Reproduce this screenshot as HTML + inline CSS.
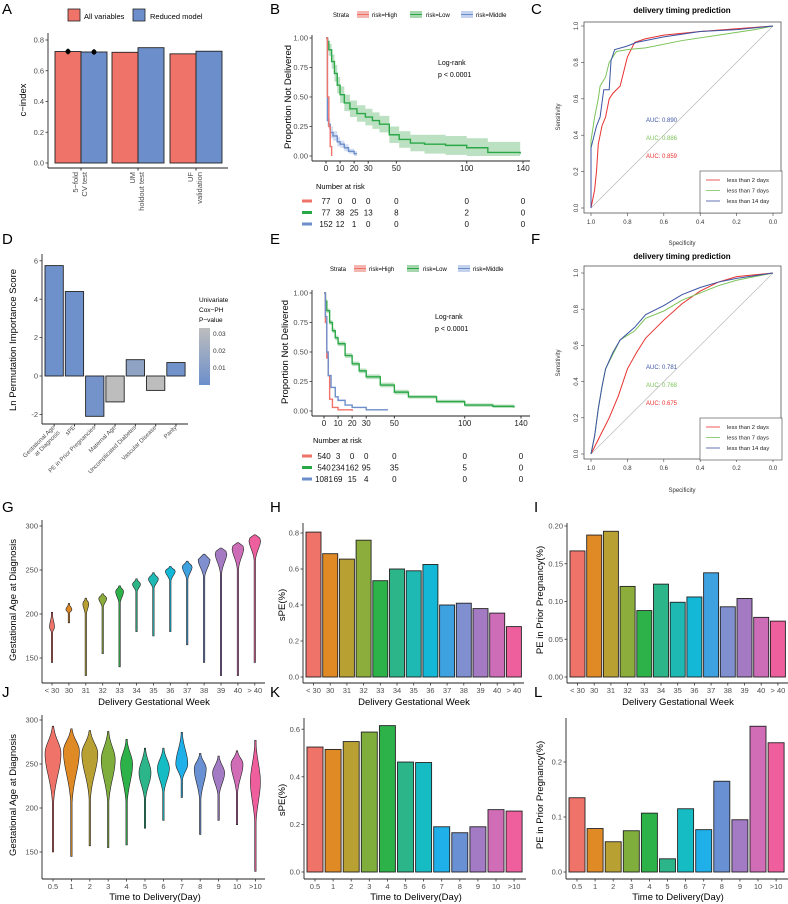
<!DOCTYPE html>
<html><head><meta charset="utf-8">
<style>
html,body{margin:0;padding:0;background:#fff;}
svg{display:block;font-family:"Liberation Sans",sans-serif;}
.tk{font-size:7.5px;fill:#4d4d4d;}
.at{font-size:9.5px;fill:#000;}
.pl{font-size:15px;fill:#000;}
.sm{font-size:6.5px;fill:#333;}
</style></head>
<body>
<svg id="fig" width="788" height="904" viewBox="0 0 788 904" xmlns="http://www.w3.org/2000/svg">
<text class="pl" x="2" y="14">A</text>
<text class="pl" x="270" y="14">B</text>
<text class="pl" x="531" y="14">C</text>
<text class="pl" x="2" y="244">D</text>
<text class="pl" x="270" y="244">E</text>
<text class="pl" x="531" y="244">F</text>
<text class="pl" x="2" y="512">G</text>
<text class="pl" x="270" y="512">H</text>
<text class="pl" x="534" y="512">I</text>
<text class="pl" x="2" y="697">J</text>
<text class="pl" x="270" y="697">K</text>
<text class="pl" x="534" y="697">L</text>

<rect x="68" y="9" width="12" height="12" fill="#f0736a" stroke="#222" stroke-width="0.8"/>
<text x="84" y="19" font-size="7.5">All variables</text>
<rect x="133" y="9" width="12" height="12" fill="#6c8fcb" stroke="#222" stroke-width="0.8"/>
<text x="150" y="19" font-size="7.5">Reduced model</text>
<text class="at" transform="translate(26,100) rotate(-90)" text-anchor="middle" font-size="10">c−index</text>
<g id="gA"></g>

<g font-size="6">
<text x="333" y="17">Strata</text>
<rect x="357" y="11" width="12" height="7" fill="#f4b6b1"/><line x1="357" x2="369" y1="14.5" y2="14.5" stroke="#f0736a"/>
<text x="372" y="17">risk=High</text>
<rect x="410" y="11" width="12" height="7" fill="#a5d6ae"/><line x1="410" x2="422" y1="14.5" y2="14.5" stroke="#2aa847"/>
<text x="426" y="17">risk=Low</text>
<rect x="461" y="11" width="12" height="7" fill="#c3d2ee"/><line x1="461" x2="473" y1="14.5" y2="14.5" stroke="#6c8fcb"/>
<text x="476" y="17">risk=Middle</text>
</g>
<text class="at" font-size="8" transform="translate(291,97) rotate(-90)" text-anchor="middle">Proportion Not Delivered</text>
<text x="438" y="65" font-size="7">Log-rank</text>
<text x="438" y="77" font-size="7">p &lt; 0.0001</text>
<text x="316" y="189" font-size="7.5">Number at risk</text>
<g id="gB"></g>

<g font-size="6">
<text x="330" y="271">Strata</text>
<rect x="354" y="265" width="12" height="7" fill="#f4b6b1"/><line x1="354" x2="366" y1="268.5" y2="268.5" stroke="#f0736a"/>
<text x="369" y="271">risk=High</text>
<rect x="407" y="265" width="12" height="7" fill="#a5d6ae"/><line x1="407" x2="419" y1="268.5" y2="268.5" stroke="#2aa847"/>
<text x="423" y="271">risk=Low</text>
<rect x="458" y="265" width="12" height="7" fill="#c3d2ee"/><line x1="458" x2="470" y1="268.5" y2="268.5" stroke="#6c8fcb"/>
<text x="473" y="271">risk=Middle</text>
</g>
<text class="at" font-size="8" transform="translate(288,352) rotate(-90)" text-anchor="middle">Proportion Not Delivered</text>
<text x="435" y="319" font-size="7">Log-rank</text>
<text x="435" y="331" font-size="7">p &lt; 0.0001</text>
<text x="313" y="443" font-size="7.5">Number at risk</text>
<g id="gE"></g>

<text x="682" y="13" font-size="8" font-weight="bold" text-anchor="middle">delivery timing prediction</text>
<text x="682" y="259" font-size="8" font-weight="bold" text-anchor="middle">delivery timing prediction</text>
<text x="682" y="245" font-size="6" text-anchor="middle" fill="#333">Specificity</text>
<text x="682" y="492" font-size="6" text-anchor="middle" fill="#333">Specificity</text>
<text font-size="6" fill="#333" transform="translate(560,117) rotate(-90)" text-anchor="middle">Sensitivity</text>
<text font-size="6" fill="#333" transform="translate(560,363) rotate(-90)" text-anchor="middle">Sensitivity</text>
<g id="gC"></g>
<g id="gF"></g>

<text class="at" font-size="8.5" transform="translate(16,340) rotate(-90)" text-anchor="middle">Ln Permutation Importance Score</text>
<g font-size="6.5">
<text x="199" y="302">Univariate</text>
<text x="199" y="312">Cox−PH</text>
<text x="199" y="322">P−value</text>
</g>
<defs><linearGradient id="pgrad" x1="0" y1="1" x2="0" y2="0"><stop offset="0" stop-color="#6c8fcb"/><stop offset="1" stop-color="#bdbdbd"/></linearGradient></defs>
<rect x="199" y="328" width="11" height="57" fill="url(#pgrad)"/>
<g class="sm" font-size="5.5">
<text x="213" y="336">0.03</text><text x="213" y="353">0.02</text><text x="213" y="370">0.01</text>
</g>
<g id="gD"></g>

<text class="at" transform="translate(16,600) rotate(-90)" text-anchor="middle">Gestational Age at Diagnosis</text>
<text class="at" x="154" y="705" text-anchor="middle">Delivery Gestational Week</text>
<text class="at" transform="translate(285,605) rotate(-90)" text-anchor="middle">sPE(%)</text>
<text class="at" x="414" y="705" text-anchor="middle">Delivery Gestational Week</text>
<text class="at" transform="translate(543,600) rotate(-90)" text-anchor="middle">PE in Prior Pregnancy(%)</text>
<text class="at" x="678" y="705" text-anchor="middle">Delivery Gestational Week</text>
<text class="at" transform="translate(16,795) rotate(-90)" text-anchor="middle">Gestational Age at Diagnosis</text>
<text class="at" x="155" y="900" text-anchor="middle">Time to Delivery(Day)</text>
<text class="at" transform="translate(285,800) rotate(-90)" text-anchor="middle">sPE(%)</text>
<text class="at" x="416" y="900" text-anchor="middle">Time to Delivery(Day)</text>
<text class="at" transform="translate(543,795) rotate(-90)" text-anchor="middle">PE in Prior Pregnancy(%)</text>
<text class="at" x="678" y="900" text-anchor="middle">Time to Delivery(Day)</text>
<g id="gG"></g>
<g id="gH"></g>
<g id="gI"></g>
<g id="gJ"></g>
<g id="gK"></g>
<g id="gL"></g>
</svg>
<script>
// A
const aGroups = ["5−fold|CV test","UM|holdout test","UF|validation"];
const aAllVars = [0.725, 0.72, 0.71];
const aReduced = [0.722, 0.75, 0.727];
const aTicks = [0, 0.2, 0.4, 0.6, 0.8];
// B
const bTicks = [0, 10, 20, 30, 50, 100, 140];
const bHighT = [0, 1, 2, 3, 4];
const bHighS = [1, 0.5, 0.25, 0.08, 0];
const bMidT = [0, 1, 2, 3, 5, 8, 10, 13, 16, 20, 22];
const bMidS = [1, 0.3, 0.27, 0.2, 0.17, 0.12, 0.1, 0.07, 0.04, 0.02, 0.02];
const bMidCI = [0, 0.05, 0.05, 0.05, 0.04, 0.04, 0.03, 0.03, 0.02, 0.02, 0.02];
const bLowT = [0, 1, 2, 4, 6, 8, 10, 13, 17, 22, 28, 33, 38, 45, 52, 60, 70, 85, 100, 115, 138];
const bLowS = [1, 0.97, 0.9, 0.8, 0.7, 0.6, 0.52, 0.45, 0.4, 0.36, 0.33, 0.3, 0.27, 0.18, 0.14, 0.11, 0.1, 0.09, 0.07, 0.03, 0.02];
const bLowCI = [0, 0.03, 0.05, 0.06, 0.07, 0.07, 0.07, 0.07, 0.07, 0.07, 0.07, 0.07, 0.07, 0.07, 0.07, 0.07, 0.08, 0.08, 0.08, 0.09, 0.1];
const bRiskHigh = ["77","0","0","0","0","0","0"];
const bRiskLow = ["77","38","25","13","8","2","0"];
const bRiskMid = ["152","12","1","0","0","0","0"];
// E
const eHighT = [0, 1, 2, 3, 4, 6, 10, 20];
const eHighS = [1, 0.75, 0.45, 0.3, 0.1, 0.03, 0.01, 0];
const eMidT = [0, 1, 2, 3, 5, 8, 10, 15, 20, 30, 45];
const eMidS = [1, 0.8, 0.5, 0.3, 0.2, 0.12, 0.09, 0.05, 0.03, 0.01, 0.005];
const eLowT = [0, 1, 2, 4, 6, 8, 10, 15, 20, 25, 30, 40, 50, 60, 80, 100, 120, 135];
const eLowS = [1, 0.93, 0.85, 0.75, 0.68, 0.62, 0.57, 0.47, 0.4, 0.34, 0.29, 0.22, 0.16, 0.12, 0.08, 0.05, 0.04, 0.03];
const eLowCI = [0, 0.02, 0.02, 0.02, 0.02, 0.02, 0.02, 0.02, 0.02, 0.02, 0.02, 0.02, 0.02, 0.015, 0.015, 0.015, 0.015, 0.015];
const eRiskHigh = ["540","3","0","0","0","0","0"];
const eRiskLow = ["540","234","162","95","35","5","0"];
const eRiskMid = ["1081","69","15","4","0","0","0"];
// C ROC
const rocTicks = [1.0, 0.8, 0.6, 0.4, 0.2, 0.0];
const cRedSp = [1, 0.99, 0.98, 0.97, 0.96, 0.94, 0.92, 0.9, 0.88, 0.84, 0.82, 0.8, 0.76, 0.7, 0.6, 0.4, 0.2, 0];
const cRedSe = [0, 0.05, 0.1, 0.2, 0.35, 0.45, 0.5, 0.6, 0.63, 0.67, 0.75, 0.83, 0.91, 0.93, 0.95, 0.97, 0.985, 1];
const cGreenSp = [1, 1, 0.98, 0.96, 0.95, 0.92, 0.9, 0.86, 0.8, 0.7, 0.5, 0.3, 0.1, 0];
const cGreenSe = [0, 0.37, 0.5, 0.6, 0.67, 0.72, 0.8, 0.86, 0.87, 0.88, 0.92, 0.95, 0.98, 1];
const cBlueSp = [1, 1, 0.97, 0.95, 0.93, 0.9, 0.89, 0.87, 0.8, 0.75, 0.6, 0.4, 0.2, 0];
const cBlueSe = [0, 0.33, 0.45, 0.5, 0.65, 0.65, 0.81, 0.87, 0.89, 0.91, 0.94, 0.97, 0.98, 1];
const cAUC = ["AUC: 0.890", "AUC: 0.886", "AUC: 0.859"];
// F ROC
const fRedSp = [1, 0.95, 0.9, 0.85, 0.8, 0.75, 0.7, 0.6, 0.5, 0.4, 0.3, 0.2, 0];
const fRedSe = [0, 0.1, 0.2, 0.32, 0.47, 0.56, 0.64, 0.74, 0.83, 0.9, 0.95, 0.98, 1];
const fGreenSp = [1, 0.98, 0.96, 0.94, 0.92, 0.88, 0.84, 0.76, 0.7, 0.6, 0.5, 0.4, 0.3, 0.2, 0];
const fGreenSe = [0, 0.1, 0.25, 0.37, 0.47, 0.55, 0.63, 0.68, 0.75, 0.79, 0.85, 0.89, 0.93, 0.96, 1];
const fBlueSp = [1, 0.98, 0.96, 0.94, 0.92, 0.88, 0.84, 0.76, 0.7, 0.6, 0.5, 0.4, 0.3, 0.2, 0];
const fBlueSe = [0, 0.1, 0.25, 0.37, 0.47, 0.56, 0.63, 0.7, 0.77, 0.82, 0.88, 0.92, 0.95, 0.97, 1];
const fAUC = ["AUC: 0.781", "AUC: 0.768", "AUC: 0.675"];
// D
const dVars = ["Gestational Age|at Diagnosis","sPE","PE in Prior Pregnancies","Maternal Age","Uncomplicated Diabetes","Vascular Disease","Parity"];
const dScores = [5.75, 4.4, -2.1, -1.35, 0.85, -0.75, 0.7];
const dPvals = [0.001, 0.001, 0.003, 0.035, 0.015, 0.035, 0.002];
const dTicks = [-2, 0, 2, 4, 6];
// G
const gCats = ["< 30","30","31","32","33","34","35","36","37","38","39","40","> 40"];
const gMax = [202, 212, 218, 223, 232, 240, 247, 254, 260, 268, 275, 281, 290];
const gMode = [185, 205, 212, 218, 226, 234, 240, 249, 254, 262, 270, 276, 285];
const gMin = [145, 190, 130, 155, 140, 180, 175, 180, 165, 145, 130, 130, 145];
const gTicks = [150, 200, 250, 300];
// H, I
const hVals = [0.805, 0.685, 0.655, 0.76, 0.535, 0.6, 0.59, 0.625, 0.4, 0.41, 0.38, 0.355, 0.28];
const hTicks = [0, 0.2, 0.4, 0.6, 0.8];
const iVals = [0.167, 0.188, 0.193, 0.12, 0.088, 0.123, 0.099, 0.106, 0.138, 0.093, 0.104, 0.079, 0.074];
const iTicks = [0, 0.05, 0.1, 0.15, 0.2];
// J
const jCats = ["0.5","1","2","3","4","5","6","7","8","9","10",">10"];
const jMax = [293, 290, 288, 287, 278, 268, 268, 286, 262, 259, 265, 277];
const jMode = [262, 265, 262, 255, 250, 240, 245, 250, 245, 240, 250, 230];
const jMin = [150, 145, 157, 155, 158, 177, 186, 212, 170, 186, 181, 128];
const jTicks = [150, 200, 250, 300];
// K, L
const kVals = [0.525, 0.515, 0.548, 0.588, 0.615, 0.462, 0.46, 0.19, 0.165, 0.19, 0.262, 0.256];
const kTicks = [0, 0.2, 0.4, 0.6];
const lVals = [0.135, 0.079, 0.055, 0.075, 0.107, 0.024, 0.115, 0.077, 0.165, 0.095, 0.265, 0.235];
const lTicks = [0, 0.1, 0.2];

const NS = "http://www.w3.org/2000/svg";
const pal13 = ["#f0736a","#e08a26","#b9a032","#8cad3c","#2db24a","#2db58a","#1fb9b3","#13b8d6","#3ea1e0","#7f8fd0","#a47bc2","#cd6db8","#ee5f9e"];
const pal12 = ["#f0736a","#e08a26","#b9a032","#7fae3c","#2db24a","#2db58a","#16bcc4","#1fb0ea","#6a90d4","#a27bc4","#d06db6","#ef5f9e"];
function mk(tag, a, parent){const e=document.createElementNS(NS,tag);for(const k in a)e.setAttribute(k,a[k]);parent.appendChild(e);return e;}
function txt(s,a,parent){const e=mk("text",a,parent);e.textContent=s;return e;}
function G(id){return document.getElementById(id);}

function axes(g, x0, yTop, yBot, xRight, ticks, yFn, fmt, nm){
  const l=mk("line",{x1:x0,x2:x0,y1:yTop,y2:yBot,stroke:"#222","stroke-width":0.9},g);
  
  
  const b=mk("line",{x1:x0,x2:xRight,y1:yBot,y2:yBot,stroke:"#222","stroke-width":0.9},g);
  
  
  ticks.forEach(t=>{
    const y=yFn(t);
    mk("line",{x1:x0-2.5,x2:x0,y1:y,y2:y,stroke:"#333","stroke-width":0.8},g);
    const e=txt(fmt(t),{x:x0-4,y:y+2.6,"text-anchor":"end",class:"tk"},g);
    
    
  });
}
function xlabels(g, cats, xFn, y, yBot, nm){
  cats.forEach((c,i)=>{
    const x=xFn(i);
    mk("line",{x1:x,x2:x,y1:yBot,y2:yBot+2.5,stroke:"#333","stroke-width":0.8},g);
    const e=txt(c,{x:x,y:y,"text-anchor":"middle",class:"tk"},g);
    
    
  });
}

(function(){
  const g=G("gA");
  const yA=v=>163-v*(123/0.8);
  const gx=[55,112,170], bw=26;
  axes(g,48,33,168,228,aTicks,yA,t=>t.toFixed(1),"a");
  aAllVars.forEach((v,i)=>{
    const r=mk("rect",{x:gx[i],y:yA(v),width:bw,height:yA(0)-yA(v),fill:"#f0736a",stroke:"#222","stroke-width":0.9},g);
    
    
  });
  aReduced.forEach((v,i)=>{
    const r=mk("rect",{x:gx[i]+bw,y:yA(v),width:bw,height:yA(0)-yA(v),fill:"#6c8fcb",stroke:"#222","stroke-width":0.9},g);
    
    
  });
  [aAllVars[0],aReduced[0]].forEach((v,k)=>{
    const cx=gx[0]+bw/2+k*bw;
    mk("line",{x1:cx,x2:cx,y1:yA(v)-3,y2:yA(v)+3,stroke:"#000"},g);
    const c=mk("circle",{cx:cx,cy:yA(v),r:2.5,fill:"#000"},g);
    
    
  });
  aGroups.forEach((lab,i)=>{
    const cx=gx[i]+bw;
    mk("line",{x1:cx,x2:cx,y1:168,y2:170.5,stroke:"#333"},g);
    const parts=lab.split("|");
    parts.forEach((p,j)=>{
      const e=txt(p,{transform:`translate(${cx-3+j*9},172) rotate(-90)`,"text-anchor":"end",class:"tk","font-size":7.5},g);
      
      
    });
  });
})();

function km(gid, xFn, yFn, yTop, yBot, risk, riskY, curves, nm){
  const g=G(gid);
  axes(g,312,yTop,yBot+5,530,[0,0.25,0.5,0.75,1],yFn,t=>t.toFixed(2),nm);
  g.querySelectorAll("text").forEach(t=>t.setAttribute("font-size","8"));
  g.querySelectorAll("text").forEach(t=>t.setAttribute("fill","#222"));
  bTicks.forEach(t=>{
    const x=xFn(t);
    mk("line",{x1:x,x2:x,y1:yBot+5,y2:yBot+7.5,stroke:"#333"},g);
    const e=txt(String(t),{x:x,y:yBot+15,"text-anchor":"middle","font-size":8,fill:"#222"},g);
    
    
  });
  curves.forEach(c=>{
    if(c.ci){
      let up=`M${xFn(c.t[0])},${yFn(Math.min(1,c.s[0]+c.ci[0]))}`;
      for(let i=1;i<c.t.length;i++) up+=`H${xFn(c.t[i])}V${yFn(Math.min(1,c.s[i]+c.ci[i]))}`;
      let lo="";
      for(let i=c.t.length-1;i>=1;i--) lo+=`L${xFn(c.t[i])},${yFn(Math.max(0,c.s[i]-c.ci[i]))}L${xFn(c.t[i])},${yFn(Math.max(0,c.s[i-1]-c.ci[i-1]))}`;
      lo+=`L${xFn(c.t[0])},${yFn(Math.max(0,c.s[0]-c.ci[0]))}Z`;
      const p=mk("path",{d:up+lo,fill:c.band,opacity:0.75,stroke:"none"},g);
      
      
    }
  });
  curves.forEach(c=>{
    let d=`M${xFn(c.t[0])},${yFn(c.s[0])}`;
    for(let i=1;i<c.t.length;i++) d+=`H${xFn(c.t[i])}V${yFn(c.s[i])}`;
    const p=mk("path",{d:d,fill:"none",stroke:c.col,"stroke-width":1.4},g);
    
    
  });
  const cols=["#f0736a","#2aa847","#6c8fcb"];
  risk.forEach((row,r)=>{
    const y=riskY+r*11.5;
    mk("rect",{x:302,y:y-4.5,width:10,height:3,fill:cols[r]},g);
    row.forEach((v,i)=>{
      const e=txt(v,{x:xFn(bTicks[i]),y:y,"text-anchor":"middle","font-size":8,fill:"#111"},g);
      
      
    });
  });
}
km("gB", t=>326+t*(197/140), s=>156-s*118, 35, 156, [bRiskHigh,bRiskLow,bRiskMid], 204,
  [{name:"low",t:bLowT,s:bLowS,ci:bLowCI,col:"#2aa847",band:"#a5d6ae"},
   {name:"middle",t:bMidT,s:bMidS,ci:bMidCI,col:"#6c8fcb",band:"#c3d2ee"},
   {name:"high",t:bHighT,s:bHighS,col:"#f0736a"}],"b");
km("gE", t=>324+t*(197/140), s=>411-s*118, 290, 411, [eRiskHigh,eRiskLow,eRiskMid], 459,
  [{name:"low",t:eLowT,s:eLowS,ci:eLowCI,col:"#2aa847",band:"#a5d6ae"},
   {name:"high",t:eHighT,s:eHighS,col:"#f0736a"},
   {name:"middle",t:eMidT,s:eMidS,col:"#6c8fcb"}],"e");

function roc(gid, top, yFn, series, auc, aucY, legTop, nm){
  const g=G(gid);
  const xFn=sp=>591+(1-sp)*182;
  const box=mk("rect",{x:584,y:top,width:197,height:yFn(0)+5-top,fill:"none",stroke:"#555","stroke-width":0.8},g);
  
  
  const yb=yFn(0)+5;
  rocTicks.forEach(t=>{
    const x=xFn(t);
    mk("line",{x1:x,x2:x,y1:yb,y2:yb+3,stroke:"#444","stroke-width":0.6},g);
    const e=txt(t.toFixed(1),{x:x,y:yb+11,"text-anchor":"middle","font-size":6,fill:"#333"},g);
    
    
    const y=yFn(t);
    mk("line",{x1:581,x2:584,y1:y,y2:y,stroke:"#444","stroke-width":0.6},g);
    const f=txt(t.toFixed(1),{transform:`translate(578,${y}) rotate(-90)`,"text-anchor":"middle","font-size":6,fill:"#333"},g);
    
    
  });
  const dg=mk("line",{x1:xFn(1),y1:yFn(0),x2:xFn(0),y2:yFn(1),stroke:"#bbb","stroke-width":0.7},g);
  
  
  series.forEach(s=>{
    const pts=s.sp.map((v,i)=>`${xFn(v)},${yFn(s.se[i])}`).join(" ");
    const p=mk("polyline",{points:pts,fill:"none",stroke:s.col,"stroke-width":1},g);
    
    
  });
  const aucCols=["#3b54a4","#7cc35a","#e8312f"];
  auc.forEach((a,i)=>{
    const e=txt(a,{x:646,y:aucY+i*18,"font-size":6,fill:aucCols[i]},g);
    
    
  });
  const lg=mk("rect",{x:700,y:legTop,width:82,height:42,fill:"#fff",stroke:"#444","stroke-width":0.6},g);
  
  
  const names=["less than 2 days","less than 7 days","less than 14 day"];
  const lc=["#e8312f","#7cc35a","#3b54a4"];
  names.forEach((n,i)=>{
    const y=legTop+11+i*10.5;
    mk("line",{x1:706,x2:720,y1:y-2,y2:y-2,stroke:lc[i],"stroke-width":0.8},g);
    const e=txt(n,{x:727,y:y,"font-size":5.8,fill:"#222"},g);
    
    
  });
}
roc("gC", 22, se=>208-se*182,
  [{name:"2days",sp:cRedSp,se:cRedSe,col:"#e8312f"},{name:"7days",sp:cGreenSp,se:cGreenSe,col:"#7cc35a"},{name:"14days",sp:cBlueSp,se:cBlueSe,col:"#3b54a4"}],
  cAUC, 122, 171, "c");
roc("gF", 266, se=>454-se*181,
  [{name:"2days",sp:fRedSp,se:fRedSe,col:"#e8312f"},{name:"7days",sp:fGreenSp,se:fGreenSe,col:"#7cc35a"},{name:"14days",sp:fBlueSp,se:fBlueSe,col:"#3b54a4"}],
  fAUC, 369, 418, "f");

(function(){
  const g=G("gD");
  const yD=v=>376-v*19.2;
  axes(g,42,254,424,188,dTicks,yD,t=>String(t),"d");
  g.querySelectorAll("text").forEach(t=>t.setAttribute("font-size","6"));
  function pcol(p){const f=Math.min(1,p/0.035);const a=[0x6c,0x8f,0xcb],b=[0xbd,0xbd,0xbd];return "rgb("+a.map((v,i)=>Math.round(v+(b[i]-v)*f)).join(",")+")";}
  dScores.forEach((v,i)=>{
    const x=45+i*20.3;
    const y0=yD(Math.max(0,v)), y1=yD(Math.min(0,v));
    const r=mk("rect",{x:x,y:y0,width:18.3,height:y1-y0,fill:pcol(dPvals[i]),stroke:"#222","stroke-width":0.9},g);
    
    
    const cx=x+9.15;
    mk("line",{x1:cx,x2:cx,y1:424,y2:426.5,stroke:"#333"},g);
    const parts=dVars[i].split("|");
    parts.forEach((p,j)=>{
      const e=txt(p,{transform:`translate(${cx+1+j*5},${428+j*5}) rotate(-45)`,"text-anchor":"end","font-size":6,fill:"#4d4d4d"},g);
      
      
    });
  });
})();

function violins(gid, cats, mins, modes, maxs, halfs, lowDiv, xFn, yFn, yTop, yBot, xRight, ticks, pal, nm){
  const g=G(gid);
  axes(g,42,yTop,yBot,xRight,ticks,yFn,t=>String(t),nm);
  xlabels(g,cats,xFn,yBot+10,yBot,nm);
  cats.forEach((c,i)=>{
    const cx=xFn(i), W=halfs[i];
    const lo=mins[i], hi=maxs[i], m=modes[i];
    const sU=Math.max(3,(hi-m)/1.6), sL=Math.max(3,(m-lo)/lowDiv);
    const N=40, R=[], L=[];
    for(let k=0;k<=N;k++){
      const v=lo+(hi-lo)*k/N;
      const s=v>m?sU:sL;
      const w=Math.max(0.7, W*Math.exp(-Math.pow((v-m)/s,2)));
      R.push(`${cx+w},${yFn(v)}`); L.unshift(`${cx-w},${yFn(v)}`);
    }
    const p=mk("polygon",{points:R.concat(L).join(" "),fill:pal[i],stroke:"#222","stroke-width":0.6},g);
    
    
  });
}
violins("gG", gCats, gMin, gMode, gMax, [2.5,3,3,4,4,4,5,5,5,6,6,6,6], 9, i=>52+i*16.9, v=>526+(300-v)*0.88, 520, 683, 265, gTicks, pal13, "g");
violins("gJ", jCats, jMin, jMode, jMax, [8,8,8,7,6,6,6,6,6,6,6,5], 3.2, i=>53+i*18.4, v=>720+(300-v)*0.88, 715, 879, 265, jTicks, pal12, "j");

function bars(gid, cats, vals, x0, step, bw, yFn, yTop, yBot, xRight, ticks, fmt, pal, nm){
  const g=G(gid);
  axes(g,x0-3,yTop,yBot,xRight,ticks,yFn,fmt,nm);
  vals.forEach((v,i)=>{
    const x=x0+i*step;
    const r=mk("rect",{x:x,y:yFn(v),width:bw,height:yFn(0)-yFn(v),fill:pal[i],stroke:"#222","stroke-width":0.9},g);
    
    
  });
  xlabels(g,cats,i=>x0+i*step+bw/2,yBot+10,yBot,nm);
}
bars("gH", gCats, hVals, 306, 16.7, 15, v=>677-v*180, 523, 683, 524, hTicks, t=>t.toFixed(1), pal13, "h");
bars("gI", gCats, iVals, 570, 16.7, 15, v=>677-v*755, 523, 683, 788, iTicks, t=>t.toFixed(2), pal13, "i");
bars("gK", jCats, kVals, 307, 18.1, 16, v=>872-v*238, 718, 879, 526, kTicks, t=>t.toFixed(1), pal12, "k");
bars("gL", jCats, lVals, 569, 18.1, 16, v=>872-v*550, 718, 879, 788, lTicks, t=>t.toFixed(1), pal12, "l");
</script>
</body></html>
